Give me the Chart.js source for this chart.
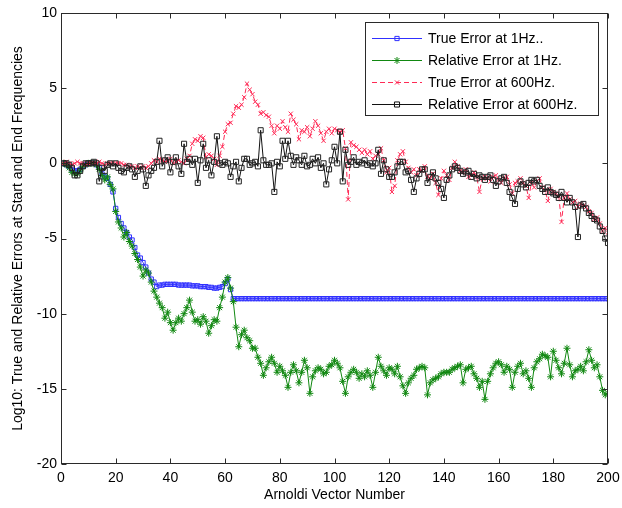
<!DOCTYPE html>
<html>
<head>
<meta charset="utf-8">
<title>Arnoldi errors</title>
<script src="https://cdn.jsdelivr.net/npm/chart.js@4/dist/chart.umd.min.js"></script>
<style>
  html, body { margin: 0; padding: 0; background: #fff; }
  canvas { display: block; }
</style>
</head>
<body>
<canvas id="errChart" width="622" height="508"></canvas>
<script>
// log10 errors per Arnoldi vector (vectors 1..200)
var trueErr1Hz = [
  0, -0.1, -0.2, -0.4, -0.5, -0.5, -0.4, -0.2, -0.1, 0,
  0, 0, -0.1, -0.3, -0.7, -0.9, -1.0, -1.4, -1.9, -3.0,
  -3.6, -4.0, -4.3, -4.6, -4.9, -5.1, -5.6, -6.1, -6.3, -6.6,
  -6.9, -7.3, -7.7, -7.9, -8.2, -8.1, -8.1, -8.05, -8.05, -8.05,
  -8.05, -8.05, -8.1, -8.1, -8.1, -8.1, -8.1, -8.15, -8.15, -8.15,
  -8.2, -8.2, -8.2, -8.25, -8.25, -8.3, -8.3, -8.25, -8.2, -8.0,
  -7.7, -8.4, -9, -9, -9, -9, -9, -9, -9, -9,
  -9, -9, -9, -9, -9, -9, -9, -9, -9, -9,
  -9, -9, -9, -9, -9, -9, -9, -9, -9, -9,
  -9, -9, -9, -9, -9, -9, -9, -9, -9, -9,
  -9, -9, -9, -9, -9, -9, -9, -9, -9, -9,
  -9, -9, -9, -9, -9, -9, -9, -9, -9, -9,
  -9, -9, -9, -9, -9, -9, -9, -9, -9, -9,
  -9, -9, -9, -9, -9, -9, -9, -9, -9, -9,
  -9, -9, -9, -9, -9, -9, -9, -9, -9, -9,
  -9, -9, -9, -9, -9, -9, -9, -9, -9, -9,
  -9, -9, -9, -9, -9, -9, -9, -9, -9, -9,
  -9, -9, -9, -9, -9, -9, -9, -9, -9, -9,
  -9, -9, -9, -9, -9, -9, -9, -9, -9, -9,
  -9, -9, -9, -9, -9, -9, -9, -9, -9, -9
];

var relErr1Hz = [
  0, -0.1, -0.3, -0.6, -0.7, -0.7, -0.5, -0.2, -0.1, 0,
  0, 0, -0.1, -0.4, -0.8, -1.1, -0.9, -1.4, -1.7, -3.2,
  -3.9, -4.3, -4.9, -4.6, -5.2, -5.5, -6.0, -6.4, -6.9, -7.5,
  -7.1, -7.3, -7.9, -8.5, -8.9, -9.3, -9.6, -10.3, -9.9, -10.6,
  -11.1, -10.6, -10.3, -10.5, -10.0, -9.6, -9.1, -9.9, -10.5, -10.4,
  -10.7, -10.2, -10.5, -11.3, -10.8, -10.4, -10.5, -9.6, -8.9, -7.9,
  -7.6, -8.3, -9.2, -10.9, -12.2, -11.4, -11.1, -11.6, -11.8, -12.3,
  -12.3, -12.9, -13.3, -14.1, -13.6, -13.2, -12.9, -13.3, -13.9, -13.5,
  -13.8, -14.1, -14.9, -13.9, -13.4, -13.8, -14.6, -13.9, -13.1, -13.6,
  -15.3, -14.2, -13.8, -13.6, -13.7, -14.0, -13.9, -13.5, -13.4, -13.1,
  -13.3, -13.6, -14.5, -15.3, -14.2, -13.9, -13.7, -13.9, -14.3, -14.0,
  -14.2, -13.8, -14.1, -14.9, -13.9, -12.9, -13.5, -13.8, -14.1, -13.6,
  -13.7, -14.0, -13.5, -14.2, -14.8, -15.3, -14.6, -14.3, -14.1, -13.7,
  -13.6, -13.5, -13.6, -15.4, -14.6, -14.4, -14.3, -14.2, -14.0, -13.9,
  -13.9, -13.9, -13.7, -13.6, -13.5, -13.4, -14.6, -13.7, -13.6, -13.5,
  -14.0, -14.3, -14.9, -14.5, -15.7, -14.5, -14.0, -13.6, -13.3, -13.2,
  -13.4, -13.9, -13.5, -13.7, -14.9, -13.9, -13.5, -13.3, -14.0, -13.8,
  -14.3, -14.9, -13.6, -13.2, -13.0, -12.7, -12.8, -12.9, -14.2, -12.5,
  -13.1, -13.6, -14.0, -13.3, -12.3, -13.4, -14.2, -13.8, -13.7, -13.5,
  -13.8, -13.2, -12.4, -13.1, -13.6, -13.4, -14.2, -15.1, -15.4, -15.3
];

var trueErr600Hz = [
  0, 0.1, 0, -0.1, 0, 0.1, 0, 0, -0.1, 0,
  0, 0, 0, 0.1, 0, -0.1, 0, 0, 0, 0,
  0, 0, -0.1, -0.1, -0.2, -0.2, -0.3, -0.2, -0.3, -0.2,
  -0.3, -0.2, 0, 0.2, 0.1, 0.3, 0.2, 0.1, 0.2, 0.3,
  0, 0.1, 0.2, 0.1, 0, 0.3, 0.5, 1.3, 1.6, 1.5,
  1.8, 1.7, 0.4, 0.6, 0.5, 0.3, -0.1, 0.5, 1.1, 2.1,
  2.6, 2.7, 3.3, 3.8, 3.7, 3.9, 4.4, 5.3, 4.9, 4.6,
  4.1, 3.9, 3.3, 3.4, 3.2, 3.1, 2.5, 2.0, 2.5, 2.3,
  2.8, 2.4, 2.1, 3.3, 2.9, 2.6, 1.6, 2.2, 2.1, 2.4,
  1.8, 2.3, 2.8, 2.5, 2.0, 1.5, 2.1, 2.3, 2.0, 2.3,
  2.2, 2.1, 2.2, 1.0, -2.4, 1.4, 1.2, 1.1, 0.9, 0.7,
  0.9, 0.6, 0.8, 0.3, 0.5, 0.6, 1.0, 0.2, -0.6, -0.3,
  -1.9, -1.5, 0.2, 0.6, 0.8, 0.1, -0.3, -0.6, -0.4, -0.8,
  -0.4, -0.5, -0.2, -0.9, -1.0, -0.7, -1.3, -2.1, -1.0, -0.5,
  -0.8, -1.1, -0.3, 0.1, -0.2, -0.5, -0.6, -0.4, -0.9, -0.8,
  -0.6, -0.9, -1.9, -1.0, -0.9, -1.0, -1.2, -0.9, -0.8, -1.1,
  -1.3, -1.0, -0.9, -1.4, -2.0, -1.3, -1.2, -1.0, -1.3, -1.5,
  -2.3, -1.3, -1.6, -1.2, -1.0, -1.6, -1.8, -2.5, -1.7, -1.9,
  -2.0, -2.2, -3.9, -2.3, -2.0, -2.4, -2.6, -2.5, -2.9, -2.7,
  -2.8, -2.9, -3.2, -3.3, -3.7, -3.6, -4.0, -4.5, -4.3, -4.6
];

var relErr600Hz = [
  0, 0, -0.1, -0.3, -0.8, -0.8, -0.5, -0.2, 0, 0,
  0, 0.1, 0, -1.2, -0.3, -0.5, -0.1, 0, -0.2, 0,
  -0.3, -0.5, -0.6, -0.3, -0.2, -0.4, -0.9, -0.5, -0.2, -0.4,
  -1.5, -0.8, -0.5, -0.3, 0.1, 1.5, -0.2, 0.2, 0.4, -0.6,
  0.1, 0.4, -0.2, -0.7, 1.3, 0.1, 0.3, -0.1, 0.3, -1.3,
  0.2, 1.3, -0.3, 0.2, -0.8, 0.1, 1.8, 0.0, -0.1, 0.1,
  0, -0.9, -0.2, 0.1, -1.2, -0.3, 0.3, 0.3, -0.1, 0,
  0.1, -0.2, 2.2, 0.2, -0.1, -0.1, 0.0, -1.9, 0.1, -0.2,
  1.5, 0.3, 1.5, 0.5, -0.1, 0.4, 0.2, -0.1, 0.5, -0.2,
  -0.1, 0.3, 0.0, 0.4, -0.3, 0.0, -1.4, -0.4, 0.2, 1.1,
  0.0, 2.1, -1.2, 0.9, -0.1, 0.1, 0.4, -0.1, 0.1, 0.0,
  0.2, -0.1, 0.0, -0.2, 0.0, 0.9, -0.7, 0.2, -0.4, -0.9,
  -0.9, -0.6, -0.2, 0.1, 0.1, -0.6, -0.5, -1.1, -1.9, -1.0,
  -0.7, -0.4, -0.4, -1.3, -0.9, -0.6, -1.0, -1.3, -1.7, -2.3,
  -1.1, -0.8, -0.4, -0.2, -0.3, -0.5, -0.7, -0.6, -0.5, -0.9,
  -0.7, -1.0, -0.8, -0.9, -1.1, -0.9, -0.8, -1.1, -1.5, -1.2,
  -1.0, -0.9, -1.3, -1.9, -2.3, -2.7, -1.7, -1.2, -1.4, -1.6,
  -1.3, -1.1, -1.2, -1.1, -1.5, -1.7, -1.9, -1.6, -1.9, -2.0,
  -2.1, -2.3, -1.9, -2.3, -2.6, -2.3, -2.6, -2.9, -4.9, -2.8,
  -2.7, -3.0, -3.3, -3.5, -3.7, -3.8, -4.2, -4.5, -5.0, -5.3
];

var seriesNames = ['True Error at 1Hz..', 'Relative Error at 1Hz.', 'True Error at 600Hz.', 'Relative Error at 600Hz.'];
var xTicks = [0, 20, 40, 60, 80, 100, 120, 140, 160, 180, 200];
var yTicks = [-20, -15, -10, -5, 0, 5, 10];

var vectorNumbers = trueErr1Hz.map(function (v, i) { return i + 1; });

function toPoints(values) {
  return values.map(function (v, i) { return { x: vectorNumbers[i], y: v }; });
}

var FONT = '"Liberation Sans", Arial, Helvetica, sans-serif';

// boxed axes with inward ticks on all four sides
var boxAxes = {
  id: 'boxAxes',
  afterDatasetsDraw: function (chart) {
    var ctx = chart.ctx, a = chart.chartArea;
    var xs = chart.scales.x, ys = chart.scales.y;
    var L = Math.round(a.left) + 0.5, R = Math.round(a.right) - 0.5;
    var T = Math.round(a.top) + 0.5, B = Math.round(a.bottom) - 0.5;
    ctx.save();
    ctx.strokeStyle = '#2a2a2a';
    ctx.lineWidth = 1;
    ctx.beginPath();
    xTicks.forEach(function (t) {
      var px = Math.round(xs.getPixelForValue(t)) + 0.5;
      ctx.moveTo(px, B); ctx.lineTo(px, B - 5);
      ctx.moveTo(px, T); ctx.lineTo(px, T + 5);
    });
    yTicks.forEach(function (t) {
      var py = Math.round(ys.getPixelForValue(t)) + 0.5;
      ctx.moveTo(L, py); ctx.lineTo(L + 5, py);
      ctx.moveTo(R, py); ctx.lineTo(R - 5, py);
    });
    ctx.stroke();
    ctx.strokeRect(L, T, R - L, B - T);
    ctx.restore();
  }
};

// legend box in the upper right corner, line + marker samples
var boxLegend = {
  id: 'boxLegend',
  afterDraw: function (chart) {
    var ctx = chart.ctx, a = chart.chartArea;
    var w = 233, h = 93;
    var right = Math.round(a.right) - 10, top = Math.round(a.top) + 9;
    var left = right - w;
    ctx.save();
    ctx.fillStyle = '#fff';
    ctx.fillRect(left, top, w, h);
    ctx.strokeStyle = '#2a2a2a';
    ctx.lineWidth = 1;
    ctx.strokeRect(left + 0.5, top + 0.5, w, h);
    ctx.font = '14px ' + FONT;
    ctx.textBaseline = 'middle';
    ctx.textAlign = 'left';
    chart.data.datasets.forEach(function (ds, i) {
      var y = top + 16.5 + i * 22;
      ctx.strokeStyle = ds.borderColor;
      ctx.lineWidth = 1;
      ctx.setLineDash(ds.borderDash || []);
      ctx.beginPath();
      ctx.moveTo(left + 7, y);
      ctx.lineTo(left + 57, y);
      ctx.stroke();
      ctx.setLineDash([]);
      ctx.fillStyle = 'rgba(0,0,0,0)';
      Chart.helpers.drawPoint(ctx, {
        pointStyle: ds.pointStyle, radius: ds.pointRadius,
        borderWidth: 1, rotation: 0
      }, left + 32, y);
      ctx.fillStyle = '#000';
      ctx.fillText(ds.label, left + 63, y + 1);
    });
    ctx.restore();
  }
};

new Chart(document.getElementById('errChart'), {
  type: 'line',
  data: {
    datasets: [
      {
        label: seriesNames[0], data: toPoints(trueErr1Hz), order: 4,
        borderColor: '#3030ff', borderWidth: 1,
        pointStyle: 'rect', pointRadius: 3, pointBorderWidth: 1,
        pointBorderColor: '#3030ff', pointBackgroundColor: 'rgba(0,0,0,0)'
      },
      {
        label: seriesNames[1], data: toPoints(relErr1Hz), order: 3,
        borderColor: '#118811', borderWidth: 1,
        pointStyle: 'star', pointRadius: 3.5, pointBorderWidth: 1,
        pointBorderColor: '#118811', pointBackgroundColor: 'rgba(0,0,0,0)'
      },
      {
        label: seriesNames[2], data: toPoints(trueErr600Hz), order: 2,
        borderColor: '#ff2a55', borderWidth: 1, borderDash: [5, 3],
        pointStyle: 'crossRot', pointRadius: 3, pointBorderWidth: 1,
        pointBorderColor: '#ff2a55', pointBackgroundColor: 'rgba(0,0,0,0)'
      },
      {
        label: seriesNames[3], data: toPoints(relErr600Hz), order: 1,
        borderColor: '#111', borderWidth: 1,
        pointStyle: 'rect', pointRadius: 3.6, pointBorderWidth: 1,
        pointBorderColor: '#222', pointBackgroundColor: 'rgba(0,0,0,0)'
      }
    ]
  },
  options: {
    responsive: false,
    animation: false,
    layout: { padding: { top: 13, right: 14, left: 0, bottom: 0 } },
    elements: { line: { tension: 0 } },
    plugins: {
      legend: { display: false },
      tooltip: { enabled: false }
    },
    scales: {
      x: {
        type: 'linear', min: 0, max: 200,
        afterFit: function (s) { s.height = 44; s.paddingLeft = 0; s.paddingRight = 0; },
        afterBuildTicks: function (s) { s.ticks = xTicks.map(function (v) { return { value: v }; }); },
        ticks: { color: '#000', padding: 6, font: { family: FONT, size: 14 } },
        grid: { display: false, drawTicks: false },
        border: { display: false },
        title: { display: true, text: 'Arnoldi Vector Number', color: '#000',
                 font: { family: FONT, size: 14 }, padding: { top: 4, bottom: 4 } }
      },
      y: {
        type: 'linear', min: -20, max: 10,
        afterFit: function (s) { s.width = 61; s.paddingTop = 0; s.paddingBottom = 0; },
        afterBuildTicks: function (s) { s.ticks = yTicks.map(function (v) { return { value: v }; }); },
        ticks: { color: '#000', padding: 4, font: { family: FONT, size: 14 } },
        grid: { display: false, drawTicks: false },
        border: { display: false },
        title: { display: true, text: 'Log10: True and Relative Errors at Start and End Frequencies',
                 color: '#000', font: { family: FONT, size: 14 }, padding: { top: 10, bottom: 0 } }
      }
    }
  },
  plugins: [boxAxes, boxLegend]
});
</script>
</body>
</html>
